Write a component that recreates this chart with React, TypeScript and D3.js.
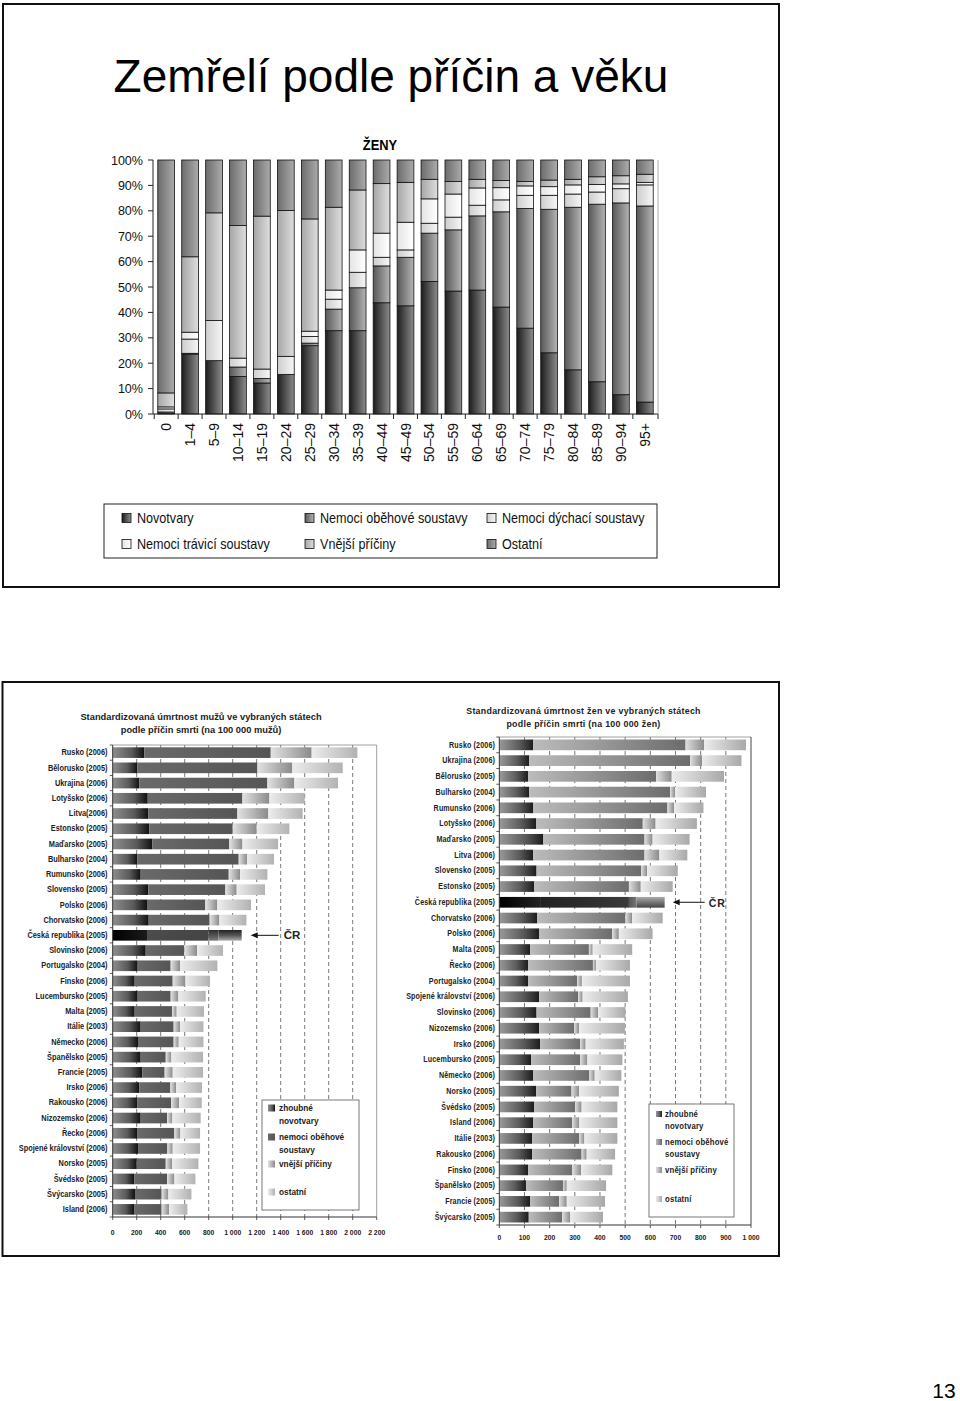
import React from "react";
import * as d3 from "d3";

const FONT = "'Liberation Sans', Arial, Helvetica, sans-serif";

// ---------- Top chart: ŽENY, share of causes of death by age (%) ----------
const ageGroups = ["0", "1–4", "5–9", "10–14", "15–19", "20–24", "25–29", "30–34", "35–39", "40–44", "45–49", "50–54", "55–59", "60–64", "65–69", "70–74", "75–79", "80–84", "85–89", "90–94", "95+"];
const novotvaryPct = [0.2, 23.6, 21.0, 14.8, 12.2, 15.6, 26.9, 32.8, 32.8, 43.8, 42.6, 52.2, 48.4, 48.8, 42.1, 33.8, 24.1, 17.4, 12.7, 7.6, 4.7];
const obehovePct = [0.6, 0.3, 0.0, 3.7, 1.8, 0.0, 1.0, 8.5, 16.9, 14.5, 19.1, 19.0, 24.1, 29.2, 37.5, 47.1, 56.5, 64.0, 69.9, 75.5, 77.2];
const dychaciPct = [1.2, 5.6, 15.8, 3.5, 3.7, 7.1, 2.6, 3.9, 6.1, 3.4, 2.9, 3.9, 5.0, 4.2, 4.7, 5.2, 5.5, 5.2, 4.8, 5.6, 8.3];
const traviciPct = [0.8, 2.7, 0.0, 0.0, 0.0, 0.0, 2.1, 3.6, 8.8, 9.5, 10.9, 9.6, 9.1, 6.8, 4.8, 3.7, 3.4, 3.6, 3.0, 1.9, 1.0];
const vnejsiPct = [5.5, 29.7, 42.4, 52.2, 60.2, 57.4, 44.2, 32.6, 23.6, 19.5, 15.7, 7.7, 4.9, 3.4, 2.8, 1.7, 2.6, 2.2, 3.0, 3.2, 3.2];
const ostatniPct = [91.7, 38.1, 20.8, 25.8, 22.1, 19.9, 23.2, 18.6, 11.8, 9.3, 8.8, 7.6, 8.5, 7.6, 8.1, 8.5, 7.9, 7.6, 6.6, 6.2, 5.6];
const topLegendLabels = ["Novotvary", "Nemoci oběhové soustavy", "Nemoci dýchací soustavy", "Nemoci trávicí soustavy", "Vnější příčiny", "Ostatní"];
const topTicks = [0, 10, 20, 30, 40, 50, 60, 70, 80, 90, 100];

// ---------- Bottom left: men, per 100 000 ----------
const menCountries = ["Rusko (2006)", "Bělorusko (2005)", "Ukrajina (2006)", "Lotyšsko (2006)", "Litva(2006)", "Estonsko (2005)", "Maďarsko (2005)", "Bulharsko (2004)", "Rumunsko (2006)", "Slovensko (2005)", "Polsko (2006)", "Chorvatsko (2006)", "Česká republika (2005)", "Slovinsko (2006)", "Portugalsko (2004)", "Finsko (2006)", "Lucembursko (2005)", "Malta (2005)", "Itálie (2003)", "Německo (2006)", "Španělsko (2005)", "Francie (2005)", "Irsko (2006)", "Rakousko (2006)", "Nizozemsko (2006)", "Řecko (2006)", "Spojené království (2006)", "Norsko (2005)", "Švédsko (2005)", "Švýcarsko (2005)", "Island (2006)"];
const menNovotvary = [264, 206, 222, 292, 297, 306, 331, 206, 233, 297, 286, 300, 286, 275, 208, 183, 208, 183, 233, 211, 233, 247, 222, 206, 233, 203, 211, 200, 181, 186, 178];
const menObehove = [1053, 1000, 1067, 789, 742, 694, 641, 844, 734, 642, 486, 508, 511, 322, 275, 317, 275, 311, 275, 297, 209, 186, 259, 280, 220, 311, 245, 242, 272, 222, 230];
const menVnejsi = [341, 291, 225, 225, 258, 200, 109, 69, 94, 94, 100, 81, 84, 106, 78, 106, 64, 39, 53, 42, 47, 67, 47, 67, 44, 50, 44, 52, 61, 56, 61];
const menOstatni = [381, 420, 364, 294, 286, 272, 297, 225, 228, 236, 281, 225, 194, 216, 311, 205, 228, 228, 195, 206, 264, 253, 216, 189, 236, 164, 228, 220, 175, 192, 153];
const menTicks = [0, 200, 400, 600, 800, 1000, 1200, 1400, 1600, 1800, 2000, 2200];

// ---------- Bottom right: women, per 100 000 ----------
const womenCountries = ["Rusko (2006)", "Ukrajina (2006)", "Bělorusko (2005)", "Bulharsko (2004)", "Rumunsko (2006)", "Lotyšsko (2006)", "Maďarsko (2005)", "Litva (2006)", "Slovensko (2005)", "Estonsko (2005)", "Česká republika (2005)", "Chorvatsko (2006)", "Polsko (2006)", "Malta (2005)", "Řecko (2006)", "Portugalsko (2004)", "Spojené království (2006)", "Slovinsko (2006)", "Nizozemsko (2006)", "Irsko (2006)", "Lucembursko (2005)", "Německo (2006)", "Norsko (2005)", "Švédsko (2005)", "Island (2006)", "Itálie (2003)", "Rakousko (2006)", "Finsko (2006)", "Španělsko (2005)", "Francie (2005)", "Švýcarsko (2005)"];
const womenNovotvary = [135, 119, 114, 119, 135, 147, 175, 135, 148, 139, 162, 151, 159, 123, 114, 114, 158, 148, 158, 162, 126, 135, 146, 139, 135, 130, 130, 115, 106, 122, 117];
const womenObehove = [605, 639, 509, 560, 533, 423, 402, 442, 416, 376, 353, 350, 290, 233, 258, 195, 155, 215, 139, 159, 195, 223, 141, 162, 154, 188, 197, 175, 147, 116, 133];
const womenVnejsi = [74, 48, 62, 19, 26, 51, 32, 59, 23, 47, 30, 27, 26, 15, 12, 19, 18, 30, 20, 22, 29, 21, 30, 26, 29, 20, 20, 35, 15, 30, 32];
const womenOstatni = [166, 156, 208, 123, 117, 164, 147, 111, 122, 127, 112, 121, 134, 157, 135, 191, 180, 108, 182, 152, 139, 106, 158, 142, 151, 131, 113, 124, 156, 152, 130];
const womenTicks = [0, 100, 200, 300, 400, 500, 600, 700, 800, 900, 1000];

const bottomLegend = [["zhoubné", "novotvary"], ["nemoci oběhové", "soustavy"], ["vnější příčiny"], ["ostatní"]];
const CR = "Česká republika (2005)";

const fmtThousands = (v: number) => (v >= 1000 ? `${Math.floor(v / 1000)} ${String(v % 1000).padStart(3, "0")}` : String(v));

function T({ x, y, sx = 1, children, ...rest }: any) {
  return (
    <text transform={`translate(${x},${y}) scale(${sx},1)`} fontFamily={FONT} {...rest}>
      {children}
    </text>
  );
}

function Grad({ id, stops, vertical }: { id: string; stops: [number, string][]; vertical?: boolean }) {
  return (
    <linearGradient id={id} x1="0" y1="0" x2={vertical ? "0" : "1"} y2={vertical ? "1" : "0"}>
      {stops.map(([o, c], i) => (
        <stop key={i} offset={o} stopColor={c} />
      ))}
    </linearGradient>
  );
}

export default function App() {
  // ---- top chart ----
  const xTop = d3.scaleBand<string>().domain(ageGroups).range([153, 658]).paddingInner(0.3).paddingOuter(0.2);
  const yTop = d3.scaleLinear().domain([0, 100]).range([414, 160]);
  const topKeys = ["nov", "obeh", "dych", "trav", "vnej", "ost"];
  const topRows = ageGroups.map((age, i) => ({
    age,
    nov: novotvaryPct[i],
    obeh: obehovePct[i],
    dych: dychaciPct[i],
    trav: traviciPct[i],
    vnej: vnejsiPct[i],
    ost: ostatniPct[i],
  }));
  const topStack = d3.stack<any>().keys(topKeys)(topRows);

  // ---- bottom charts ----
  const botKeys = ["nov", "obeh", "vnej", "ost"];
  const menRows = menCountries.map((c, i) => ({ c, nov: menNovotvary[i], obeh: menObehove[i], vnej: menVnejsi[i], ost: menOstatni[i] }));
  const womenRows = womenCountries.map((c, i) => ({ c, nov: womenNovotvary[i], obeh: womenObehove[i], vnej: womenVnejsi[i], ost: womenOstatni[i] }));
  const menStack = d3.stack<any>().keys(botKeys)(menRows);
  const womenStack = d3.stack<any>().keys(botKeys)(womenRows);

  const xL = d3.scaleLinear().domain([0, 2200]).range([112.7, 376.7]);
  const yL = d3.scaleBand<string>().domain(menCountries).range([745, 1217]).paddingInner(0.3).paddingOuter(0.15);
  const xR = d3.scaleLinear().domain([0, 1000]).range([499.3, 751]);
  const yR = d3.scaleBand<string>().domain(womenCountries).range([737, 1225]).paddingInner(0.32).paddingOuter(0.16);

  const crMenTotal = menStack[menStack.length - 1][menCountries.indexOf(CR)][1];
  const crWomenTotal = womenStack[womenStack.length - 1][womenCountries.indexOf(CR)][1];

  const topLegendPos = topLegendLabels.map((_, i) => ({ x: [122, 305, 487][i % 3], y: [518, 544][Math.floor(i / 3)] }));

  const renderBottom = (
    stack: any[],
    x: d3.ScaleLinear<number, number>,
    y: d3.ScaleBand<string>,
    prefix: string
  ) =>
    stack.map((s: any, k: number) =>
      s.map((d: any) => {
        const isCR = d.data.c === CR;
        return (
          <rect
            key={`${prefix}-${k}-${d.data.c}`}
            x={x(d[0])}
            y={y(d.data.c)}
            width={Math.max(0, x(d[1]) - x(d[0]))}
            height={y.bandwidth()}
            fill={`url(#${isCR ? prefix + "cr" : prefix}-${k})`}
          />
        );
      })
    );

  const yLstep = yL.step();
  const yRstep = yR.step();

  return (
    <svg width={960} height={1401} style={{ position: "absolute", left: 0, top: 0, display: "block", background: "#fff" }}>
      <defs>
        {/* top chart gradients */}
        <Grad id="gt-0" stops={[[0, "#1c1c1c"], [1, "#8c8c8c"]]} />
        <Grad id="gt-1" stops={[[0, "#585858"], [1, "#b4b4b4"]]} />
        <Grad id="gt-2" stops={[[0, "#cdcdcd"], [1, "#f6f6f6"]]} />
        <Grad id="gt-3" stops={[[0, "#e4e4e4"], [1, "#ffffff"]]} />
        <Grad id="gt-4" stops={[[0, "#a6a6a6"], [1, "#dedede"]]} />
        <Grad id="gt-5" stops={[[0, "#6c6c6c"], [1, "#ababab"]]} />
        {/* men chart gradients */}
        <Grad id="gL-0" stops={[[0, "#8e8e8e"], [0.6, "#5a5a5a"], [1, "#111"]]} />
        <Grad id="gL-1" stops={[[0, "#6a6a6a"], [1, "#555"]]} />
        <Grad id="gL-2" stops={[[0, "#e2e2e2"], [1, "#8a8a8a"]]} />
        <Grad id="gL-3" stops={[[0, "#ececec"], [1, "#b2b2b2"]]} />
        <Grad id="gLcr-0" stops={[[0, "#000"], [1, "#1a1a1a"]]} />
        <Grad id="gLcr-1" stops={[[0, "#4c4c4c"], [1, "#444"]]} />
        <Grad id="gLcr-2" stops={[[0, "#2c2c2c"], [1, "#7a7a7a"]]} vertical />
        <Grad id="gLcr-3" stops={[[0, "#222"], [0.5, "#555"], [1, "#aaa"]]} vertical />
        {/* women chart gradients */}
        <Grad id="gR-0" stops={[[0, "#9a9a9a"], [0.6, "#5a5a5a"], [1, "#1c1c1c"]]} />
        <Grad id="gR-1" stops={[[0, "#bcbcbc"], [1, "#6c6c6c"]]} />
        <Grad id="gR-2" stops={[[0, "#dedede"], [1, "#8a8a8a"]]} />
        <Grad id="gR-3" stops={[[0, "#ececec"], [1, "#a8a8a8"]]} />
        <Grad id="gRcr-0" stops={[[0, "#000"], [1, "#222"]]} />
        <Grad id="gRcr-1" stops={[[0, "#222"], [1, "#3a3a3a"]]} />
        <Grad id="gRcr-2" stops={[[0, "#555"], [1, "#777"]]} />
        <Grad id="gRcr-3" stops={[[0, "#aaa"], [1, "#444"]]} vertical />
      </defs>

      {/* ===== Top panel ===== */}
      <rect x={3} y={4} width={776} height={583} fill="none" stroke="#111" strokeWidth={2} />
      <T x={391} y={92} fontSize={46} textAnchor="middle" fill="#000">
        Zemřelí podle příčin a věku
      </T>
      <T x={380} y={145} fontSize={14} fontWeight="bold" textAnchor="middle" dominantBaseline="central" sx={0.92}>
        ŽENY
      </T>

      {/* bars */}
      {topStack.map((s: any, k: number) =>
        s.map((d: any) => {
          const h = yTop(d[0]) - yTop(d[1]);
          if (h <= 0) return null;
          return (
            <rect
              key={`t-${k}-${d.data.age}`}
              x={xTop(d.data.age)}
              y={yTop(d[1])}
              width={xTop.bandwidth()}
              height={h}
              fill={`url(#gt-${k})`}
              stroke="#111"
              strokeWidth={0.8}
            />
          );
        })
      )}
      {/* axes */}
      <line x1={153} x2={153} y1={160} y2={414} stroke="#222" strokeWidth={1} />
      <line x1={153} x2={658} y1={414} y2={414} stroke="#222" strokeWidth={1} />
      <line x1={658} x2={658} y1={160} y2={414} stroke="#999" strokeWidth={0.8} />
      {topTicks.map((t) => (
        <g key={`yt-${t}`}>
          <line x1={148} x2={153} y1={yTop(t)} y2={yTop(t)} stroke="#222" />
          <T x={143} y={yTop(t)} fontSize={13.5} textAnchor="end" dominantBaseline="central" sx={0.93} fill="#111">
            {`${t}%`}
          </T>
        </g>
      ))}
      {ageGroups.map((a) => {
        const bx = (xTop(a) as number) - (xTop.step() - xTop.bandwidth()) / 2;
        return <line key={`xtk-${a}`} x1={bx} x2={bx} y1={414} y2={419} stroke="#222" />;
      })}
      <line x1={658} x2={658} y1={414} y2={419} stroke="#222" />
      {ageGroups.map((a) => {
        const cx = (xTop(a) as number) + xTop.bandwidth() / 2;
        return (
          <text
            key={`xl-${a}`}
            transform={`translate(${cx},${423}) rotate(-90)`}
            fontFamily={FONT}
            fontSize={14}
            textAnchor="end"
            dominantBaseline="central"
            fill="#111"
          >
            {a}
          </text>
        );
      })}

      {/* legend */}
      <rect x={104} y={504} width={553} height={54} fill="none" stroke="#222" strokeWidth={1} />
      {topLegendLabels.map((lab, i) => (
        <g key={`tl-${i}`}>
          <rect x={topLegendPos[i].x} y={topLegendPos[i].y - 4.5} width={9} height={9} fill={`url(#gt-${i})`} stroke="#111" strokeWidth={0.8} />
          <T x={topLegendPos[i].x + 15} y={topLegendPos[i].y} fontSize={14} dominantBaseline="central" sx={0.9} fill="#111">
            {lab}
          </T>
        </g>
      ))}

      {/* ===== Bottom panel ===== */}
      <rect x={2.5} y={682} width={776.5} height={574} fill="none" stroke="#111" strokeWidth={2} />

      {/* --- men chart --- */}
      <T x={201} y={716} fontSize={9.6} fontWeight="bold" textAnchor="middle" dominantBaseline="central" sx={0.97} fill="#222">
        Standardizovaná úmrtnost mužů ve vybraných státech
      </T>
      <T x={201} y={729} fontSize={9.6} fontWeight="bold" textAnchor="middle" dominantBaseline="central" sx={0.97} fill="#222">
        podle příčin smrti (na 100 000 mužů)
      </T>
      {menTicks.slice(1, -1).map((t) => (
        <line key={`gl-${t}`} x1={xL(t)} x2={xL(t)} y1={745} y2={1217} stroke="#555" strokeWidth={0.8} strokeDasharray="4,3" />
      ))}
      {renderBottom(menStack, xL, yL, "gL")}
      <line x1={112.7} x2={376.7} y1={745} y2={745} stroke="#888" strokeWidth={0.8} />
      <line x1={376.7} x2={376.7} y1={745} y2={1217} stroke="#888" strokeWidth={0.8} />
      <line x1={112.7} x2={112.7} y1={745} y2={1217} stroke="#333" strokeWidth={1} />
      <line x1={112.7} x2={376.7} y1={1217} y2={1217} stroke="#333" strokeWidth={1} />
      {d3.range(menCountries.length + 1).map((i) => (
        <line key={`ylt-${i}`} x1={109.7} x2={112.7} y1={745 + i * yLstep} y2={745 + i * yLstep} stroke="#333" strokeWidth={0.8} />
      ))}
      {menTicks.map((t) => (
        <g key={`xlt-${t}`}>
          <line x1={xL(t)} x2={xL(t)} y1={1217} y2={1220} stroke="#333" strokeWidth={0.8} />
          <T x={xL(t)} y={1232} fontSize={8} fontWeight="bold" textAnchor="middle" dominantBaseline="central" sx={0.85} fill="#222">
            {fmtThousands(t)}
          </T>
        </g>
      ))}
      {menCountries.map((c) => (
        <T key={`ml-${c}`} x={107.5} y={(yL(c) as number) + yL.bandwidth() / 2} fontSize={8.6} fontWeight="bold" textAnchor="end" dominantBaseline="central" sx={0.86} fill="#222">
          {c}
        </T>
      ))}
      {/* ČR arrow (men) */}
      {(() => {
        const tip = xL(crMenTotal) + 9;
        const cy = (yL(CR) as number) + yL.bandwidth() / 2;
        return (
          <g>
            <line x1={tip + 5} x2={tip + 28} y1={cy} y2={cy} stroke="#111" strokeWidth={1} />
            <polygon points={`${tip},${cy} ${tip + 7},${cy - 3} ${tip + 7},${cy + 3}`} fill="#111" />
            <T x={tip + 33} y={cy} fontSize={11.5} fontWeight="bold" dominantBaseline="central" fill="#222">
              ČR
            </T>
          </g>
        );
      })()}
      {/* legend (men) */}
      <rect x={262} y={1100} width={97} height={110} fill="#fff" stroke="#555" strokeWidth={0.8} />
      {bottomLegend.map((lines, i) => {
        const ys = [1108, 1137, 1164, 1192][i];
        return (
          <g key={`mleg-${i}`}>
            <rect x={268} y={ys - 3.5} width={7} height={7} fill={`url(#gL-${i})`} />
            {lines.map((ln, j) => (
              <T key={j} x={279} y={ys + j * 12.5} fontSize={9} fontWeight="bold" dominantBaseline="central" sx={0.92} fill="#222">
                {ln}
              </T>
            ))}
          </g>
        );
      })}

      {/* --- women chart --- */}
      <T x={583.5} y={711} fontSize={9.2} fontWeight="bold" textAnchor="middle" dominantBaseline="central" sx={0.96} fill="#222" letterSpacing={0.3}>
        Standardizovaná úmrtnost žen ve vybraných státech
      </T>
      <T x={583.5} y={724} fontSize={9.2} fontWeight="bold" textAnchor="middle" dominantBaseline="central" sx={0.96} fill="#222" letterSpacing={0.3}>
        podle příčin smrti (na 100 000 žen)
      </T>
      {womenTicks.slice(1, -1).map((t) => (
        <line key={`gr-${t}`} x1={xR(t)} x2={xR(t)} y1={737} y2={1225} stroke="#555" strokeWidth={0.8} strokeDasharray="4,3" />
      ))}
      {renderBottom(womenStack, xR, yR, "gR")}
      <line x1={499.3} x2={751} y1={737} y2={737} stroke="#888" strokeWidth={0.8} />
      <line x1={751} x2={751} y1={737} y2={1225} stroke="#444" strokeWidth={1} />
      <line x1={499.3} x2={499.3} y1={737} y2={1225} stroke="#333" strokeWidth={1} />
      <line x1={499.3} x2={751} y1={1225} y2={1225} stroke="#333" strokeWidth={1} />
      {d3.range(womenCountries.length + 1).map((i) => (
        <line key={`yrt-${i}`} x1={496.3} x2={499.3} y1={737 + i * yRstep} y2={737 + i * yRstep} stroke="#333" strokeWidth={0.8} />
      ))}
      {womenTicks.map((t) => (
        <g key={`xrt-${t}`}>
          <line x1={xR(t)} x2={xR(t)} y1={1225} y2={1228} stroke="#333" strokeWidth={0.8} />
          <T x={xR(t)} y={1237} fontSize={8} fontWeight="bold" textAnchor="middle" dominantBaseline="central" sx={0.85} fill="#222">
            {fmtThousands(t)}
          </T>
        </g>
      ))}
      {womenCountries.map((c) => (
        <T key={`wl-${c}`} x={495} y={(yR(c) as number) + yR.bandwidth() / 2} fontSize={8.3} fontWeight="bold" textAnchor="end" dominantBaseline="central" sx={0.86} fill="#222" letterSpacing={0.15}>
          {c}
        </T>
      ))}
      {/* ČR arrow (women) */}
      {(() => {
        const tip = xR(crWomenTotal) + 8;
        const cy = (yR(CR) as number) + yR.bandwidth() / 2;
        return (
          <g>
            <line x1={tip + 5} x2={tip + 32} y1={cy} y2={cy} stroke="#111" strokeWidth={1} />
            <polygon points={`${tip},${cy} ${tip + 7},${cy - 3} ${tip + 7},${cy + 3}`} fill="#111" />
            <T x={tip + 36} y={cy + 1} fontSize={10.5} fontWeight="bold" dominantBaseline="central" fill="#222" letterSpacing={1}>
              ČR
            </T>
          </g>
        );
      })()}
      {/* legend (women) */}
      <rect x={649} y={1104} width={85} height={113} fill="#fff" stroke="#555" strokeWidth={0.8} />
      {bottomLegend.map((lines, i) => {
        const ys = [1114, 1142, 1170, 1199][i];
        return (
          <g key={`wleg-${i}`}>
            <rect x={656} y={ys - 3} width={6} height={6} fill={`url(#gR-${i})`} />
            {lines.map((ln, j) => (
              <T key={j} x={665} y={ys + j * 12} fontSize={8.6} fontWeight="bold" dominantBaseline="central" sx={0.9} fill="#222" letterSpacing={0.2}>
                {ln}
              </T>
            ))}
          </g>
        );
      })}

      {/* page number */}
      <T x={944} y={1390} fontSize={21} textAnchor="middle" dominantBaseline="central" fill="#000">
        13
      </T>
    </svg>
  );
}
